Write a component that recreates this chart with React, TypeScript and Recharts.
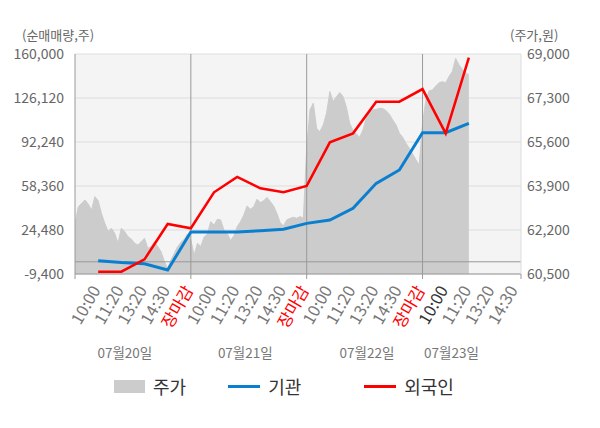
import React from 'react';
import { ComposedChart, Area, Line, XAxis, YAxis, CartesianGrid, ReferenceLine, Legend } from 'recharts';

const FONT = "'Noto Sans CJK KR', 'Noto Sans', sans-serif";

// time axis: one label per slot, slot 1 = 10:00 of the first day
const timeLabels = [
    '10:00', '11:20', '13:20', '14:30', '장마감',
    '10:00', '11:20', '13:20', '14:30', '장마감',
    '10:00', '11:20', '13:20', '14:30', '장마감',
    '10:00', '11:20', '13:20', '14:30',
];
const dayLabels = ['07월20일', '07월21일', '07월22일', '07월23일'];
const dayLabelSlots = [2.15, 7.35, 12.6, 16.25];
const dayBreaks = [5, 10, 15];
const X_MAX = 19.25;
const currentSlot = 16;

const leftTicks = [-9400, 24480, 58360, 92240, 126120, 160000];
const rightTicks = [60500, 62200, 63900, 65600, 67300, 69000];

// net buying (shares), one value per labelled slot, 10:00 day 1 .. 11:20 day 4
const institution = [800, -600, -1500, -6300, 22900, 22900, 22900, 23900, 25000, 29600, 32200, 41200, 60400, 70700, 99400, 99400, 106600];
const foreign = [-7600, -7600, 1900, 29100, 25800, 53500, 65300, 56600, 53500, 58400, 92000, 98900, 123300, 123300, 133000, 98900, 157200];

// intraday price (won), 7 samples per slot
const priceDay1 = [
    62460, 63100, 63230, 63360, 63200, 62970, 63490, 63330, 62840, 62460,
    62140, 62270, 62070, 61690, 62270, 62140, 61940, 61850, 61690, 61620,
    61750, 61880, 61490, 61560, 61750, 61560, 61360, 60980, 60720, 61040,
    61300, 61560, 61720, 61840, 62050,
];
const priceDay2 = [
    61810, 61230, 61690, 61560, 61920, 62050, 62520, 62390, 62610, 62590,
    62200, 62070, 61790, 61970, 62330, 62520, 62780, 63130, 63000, 63100,
    63390, 63260, 63330, 63460, 63300, 63130, 62840, 62480, 62360, 62590,
    62650, 62690, 62650, 62720, 62650,
];
const priceDay3 = [
    65360, 66840, 67100, 66130, 66000, 66260, 66710, 67550, 67160, 67350,
    67510, 67350, 66940, 66320, 66040, 65910, 65780, 66060, 66520, 66750,
    66840, 66860, 66900, 66890, 66810, 66670, 66450, 66260, 65940, 65780,
    65550, 65360, 65140, 64910, 64710,
];
const priceDay4 = [
    66300, 67220, 67580, 67610, 67760, 67890, 67930, 67890, 68130, 68320,
    68830, 68580, 68410, 68280, 68190,
];

const SAMPLES_PER_SLOT = 7;
const SLOTS_PER_DAY = 5;

const rows = new Map<number, any>();
[priceDay1, priceDay2, priceDay3, priceDay4].forEach((day, d) =>
    day.forEach((p, i) => {
        const key = d * SLOTS_PER_DAY * SAMPLES_PER_SLOT + i;
        rows.set(key, { x: key / SAMPLES_PER_SLOT, price: p });
    })
);
institution.forEach((v, i) => {
    const key = (i + 1) * SAMPLES_PER_SLOT;
    const row = rows.get(key) ?? { x: key / SAMPLES_PER_SLOT };
    row.inst = v;
    row.foreign = foreign[i];
    rows.set(key, row);
});
const data = [...rows.keys()].sort((a, b) => a - b).map((k) => rows.get(k));

const mainTicks = [0, ...timeLabels.map((_, i) => i + 1), X_MAX];
const boundaryTicks = [0, ...dayBreaks, X_MAX];
const legendOrder = ['price', 'inst', 'foreign'];

const TimeTick = (props: any) => {
    const { x, y, payload } = props;
    const v = payload.value;
    const label = Number.isInteger(v) && v >= 1 ? timeLabels[v - 1] : '';
    const color = label === '장마감' ? '#ff0000' : v === currentSlot ? '#333' : '#777';
    return (
        <g>
            {boundaryTicks.includes(v) && <line x1={x} x2={x} y1={y} y2={y + 5} stroke="#999" />}
            {label && (
                <g transform={`translate(${x + 3},${y + 16})`}>
                    <text textAnchor="end" transform="rotate(-60)" fill={color} fontSize={16.5} fontFamily={FONT}>
                        {label}
                    </text>
                </g>
            )}
        </g>
    );
};

const DayTick = (props: any) => {
    const { x, y, index } = props;
    return (
        <text x={x} y={y + 18} textAnchor="middle" fill="#777" fontSize={13.5} fontFamily={FONT}>
            {dayLabels[index]}
        </text>
    );
};

const LegendContent = ({ payload }: any) => {
    const items = [...(payload || [])].sort(
        (a: any, b: any) => legendOrder.indexOf(a.dataKey) - legendOrder.indexOf(b.dataKey)
    );
    return (
        <div style={{ display: 'flex', alignItems: 'center', height: 28, paddingLeft: 114, fontFamily: FONT, fontSize: 18, color: '#333' }}>
            {items.map((e: any, i: number) => (
                <div key={i} style={{ display: 'flex', alignItems: 'center', marginRight: i === 0 ? 42 : 63 }}>
                    {e.type === 'rect'
                        ? <span style={{ width: 31, height: 13, background: e.color }} />
                        : <span style={{ width: 32, height: 3, background: e.color }} />}
                    <span style={{ marginLeft: 8 }}>{e.value}</span>
                </div>
            ))}
        </div>
    );
};

const unitLabel = (text: string, dx: number) => (props: any) => {
    const { viewBox } = props;
    return (
        <text x={viewBox.x + dx} y={viewBox.y - 20} dominantBaseline="central" fill="#666" fontSize={13} fontFamily={FONT}>
            {text}
        </text>
    );
};

const App: React.FC = () => (
    <div style={{ position: 'absolute', left: 0, top: 0, width: 600, height: 428, background: '#fff' }}>
        <ComposedChart width={600} height={428} data={data} margin={{ top: 54, right: 0, left: 0, bottom: 58 }}>
            <CartesianGrid yAxisId="left" vertical={false} stroke="#dddddd" fill="#f4f4f4" />
            <XAxis
                dataKey="x"
                type="number"
                domain={[0, X_MAX]}
                allowDataOverflow
                ticks={mainTicks}
                interval={0}
                tick={<TimeTick />}
                tickLine={false}
                tickSize={0}
                tickMargin={0}
                axisLine={{ stroke: '#999' }}
                height={66}
            />
            <XAxis
                xAxisId="date"
                dataKey="x"
                type="number"
                domain={[0, X_MAX]}
                allowDataOverflow
                ticks={dayLabelSlots}
                interval={0}
                tick={<DayTick />}
                tickLine={false}
                tickSize={0}
                tickMargin={0}
                axisLine={false}
                height={30}
            />
            <YAxis
                yAxisId="left"
                orientation="left"
                width={75}
                domain={[-9400, 160000]}
                ticks={leftTicks}
                interval={0}
                tickLine={false}
                tickMargin={5}
                axisLine={{ stroke: '#999' }}
                tick={{ fill: '#666', fontSize: 14, fontFamily: FONT }}
                tickFormatter={(v: number) => v.toLocaleString('en-US')}
                label={unitLabel('(순매매량,주)', 22)}
            />
            <YAxis
                yAxisId="right"
                orientation="right"
                width={79}
                domain={[60500, 69000]}
                ticks={rightTicks}
                interval={0}
                tickLine={false}
                tickMargin={0}
                axisLine={{ stroke: '#ddd' }}
                tick={{ fill: '#666', fontSize: 14, fontFamily: FONT }}
                tickFormatter={(v: number) => v.toLocaleString('en-US')}
                label={unitLabel('(주가,원)', -11)}
            />
            <Area
                yAxisId="right"
                type="linear"
                dataKey="price"
                name="주가"
                legendType="rect"
                stroke="#cccccc"
                strokeWidth={1}
                fill="#cccccc"
                fillOpacity={1}
                connectNulls
                isAnimationActive={false}
            />
            {dayBreaks.map((d) => (
                <ReferenceLine key={d} yAxisId="left" x={d} stroke="#999" />
            ))}
            <ReferenceLine yAxisId="left" y={0} stroke="#999" />
            <Line
                yAxisId="left"
                type="linear"
                dataKey="inst"
                name="기관"
                legendType="line"
                stroke="#0a7fd0"
                strokeWidth={3}
                dot={false}
                connectNulls
                isAnimationActive={false}
            />
            <Line
                yAxisId="left"
                type="linear"
                dataKey="foreign"
                name="외국인"
                legendType="line"
                stroke="#ff0000"
                strokeWidth={2.5}
                dot={false}
                connectNulls
                isAnimationActive={false}
            />
            <Legend
                layout="horizontal"
                verticalAlign="middle"
                align="center"
                content={<LegendContent />}
                wrapperStyle={{ top: 372, left: 0, width: 600 }}
            />
        </ComposedChart>
    </div>
);

export default App;
